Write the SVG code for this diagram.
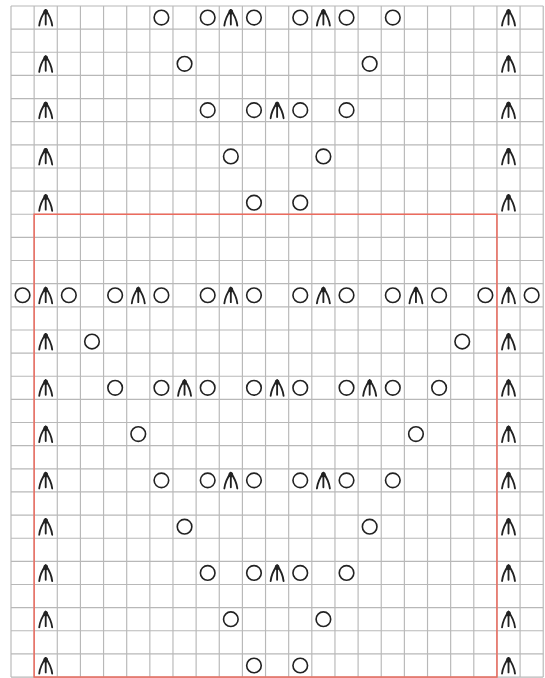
<svg xmlns="http://www.w3.org/2000/svg" xmlns:xlink="http://www.w3.org/1999/xlink" width="545" height="678" viewBox="0 0 545 678">
<style>
.grid line{stroke:#b8b8b8;stroke-width:1}
.yo{fill:none;stroke:#222;stroke-width:1.4}
.dec{fill:none;stroke:#222;stroke-width:1.6;stroke-linecap:round;stroke-linejoin:round}
.repeat{fill:none;stroke:#ec6b5e;stroke-width:1.3}
</style>
<defs>
<g id="o"><circle class="yo" cx="0" cy="0" r="6.3"/></g>
<g id="d"><path class="dec" d="M0,-6.5 C-2.5,-3 -5,2 -5.6,7 M0,-6.5 C2.5,-3 5,2 5.6,7 M0,-6.5 L0,6"/><ellipse cx="0" cy="-4.8" rx="2" ry="2.4" fill="#222"/></g>
</defs>
<rect x="0" y="0" width="545" height="678" fill="#ffffff"/>
<g transform="translate(11,6) scale(1.157)">
<g class="grid" id="grid">
<line x1="0" y1="0" x2="0" y2="580"/><line x1="20" y1="0" x2="20" y2="580"/><line x1="40" y1="0" x2="40" y2="580"/><line x1="60" y1="0" x2="60" y2="580"/><line x1="80" y1="0" x2="80" y2="580"/><line x1="100" y1="0" x2="100" y2="580"/><line x1="120" y1="0" x2="120" y2="580"/><line x1="140" y1="0" x2="140" y2="580"/><line x1="160" y1="0" x2="160" y2="580"/><line x1="180" y1="0" x2="180" y2="580"/><line x1="200" y1="0" x2="200" y2="580"/><line x1="220" y1="0" x2="220" y2="580"/><line x1="240" y1="0" x2="240" y2="580"/><line x1="260" y1="0" x2="260" y2="580"/><line x1="280" y1="0" x2="280" y2="580"/><line x1="300" y1="0" x2="300" y2="580"/><line x1="320" y1="0" x2="320" y2="580"/><line x1="340" y1="0" x2="340" y2="580"/><line x1="360" y1="0" x2="360" y2="580"/><line x1="380" y1="0" x2="380" y2="580"/><line x1="400" y1="0" x2="400" y2="580"/><line x1="420" y1="0" x2="420" y2="580"/><line x1="440" y1="0" x2="440" y2="580"/><line x1="460" y1="0" x2="460" y2="580"/>
<line x1="0" y1="0" x2="460" y2="0"/><line x1="0" y1="20" x2="460" y2="20"/><line x1="0" y1="40" x2="460" y2="40"/><line x1="0" y1="60" x2="460" y2="60"/><line x1="0" y1="80" x2="460" y2="80"/><line x1="0" y1="100" x2="460" y2="100"/><line x1="0" y1="120" x2="460" y2="120"/><line x1="0" y1="140" x2="460" y2="140"/><line x1="0" y1="160" x2="460" y2="160"/><line x1="0" y1="180" x2="460" y2="180"/><line x1="0" y1="200" x2="460" y2="200"/><line x1="0" y1="220" x2="460" y2="220"/><line x1="0" y1="240" x2="460" y2="240"/><line x1="0" y1="260" x2="460" y2="260"/><line x1="0" y1="280" x2="460" y2="280"/><line x1="0" y1="300" x2="460" y2="300"/><line x1="0" y1="320" x2="460" y2="320"/><line x1="0" y1="340" x2="460" y2="340"/><line x1="0" y1="360" x2="460" y2="360"/><line x1="0" y1="380" x2="460" y2="380"/><line x1="0" y1="400" x2="460" y2="400"/><line x1="0" y1="420" x2="460" y2="420"/><line x1="0" y1="440" x2="460" y2="440"/><line x1="0" y1="460" x2="460" y2="460"/><line x1="0" y1="480" x2="460" y2="480"/><line x1="0" y1="500" x2="460" y2="500"/><line x1="0" y1="520" x2="460" y2="520"/><line x1="0" y1="540" x2="460" y2="540"/><line x1="0" y1="560" x2="460" y2="560"/><line x1="0" y1="580" x2="460" y2="580"/>
</g>
<rect class="repeat" id="repeat" x="20" y="180" width="400" height="400"/>
<g id="symbols">
<g id="row0" transform="translate(0,10)"><use xlink:href="#d" x="30"/><use xlink:href="#o" x="130"/><use xlink:href="#o" x="170"/><use xlink:href="#d" x="190"/><use xlink:href="#o" x="210"/><use xlink:href="#o" x="250"/><use xlink:href="#d" x="270"/><use xlink:href="#o" x="290"/><use xlink:href="#o" x="330"/><use xlink:href="#d" x="430"/></g>
<g id="row2" transform="translate(0,50)"><use xlink:href="#d" x="30"/><use xlink:href="#o" x="150"/><use xlink:href="#o" x="310"/><use xlink:href="#d" x="430"/></g>
<g id="row4" transform="translate(0,90)"><use xlink:href="#d" x="30"/><use xlink:href="#o" x="170"/><use xlink:href="#o" x="210"/><use xlink:href="#d" x="230"/><use xlink:href="#o" x="250"/><use xlink:href="#o" x="290"/><use xlink:href="#d" x="430"/></g>
<g id="row6" transform="translate(0,130)"><use xlink:href="#d" x="30"/><use xlink:href="#o" x="190"/><use xlink:href="#o" x="270"/><use xlink:href="#d" x="430"/></g>
<g id="row8" transform="translate(0,170)"><use xlink:href="#d" x="30"/><use xlink:href="#o" x="210"/><use xlink:href="#o" x="250"/><use xlink:href="#d" x="430"/></g>
<g id="row12" transform="translate(0,250)"><use xlink:href="#o" x="10"/><use xlink:href="#d" x="30"/><use xlink:href="#o" x="50"/><use xlink:href="#o" x="90"/><use xlink:href="#d" x="110"/><use xlink:href="#o" x="130"/><use xlink:href="#o" x="170"/><use xlink:href="#d" x="190"/><use xlink:href="#o" x="210"/><use xlink:href="#o" x="250"/><use xlink:href="#d" x="270"/><use xlink:href="#o" x="290"/><use xlink:href="#o" x="330"/><use xlink:href="#d" x="350"/><use xlink:href="#o" x="370"/><use xlink:href="#o" x="410"/><use xlink:href="#d" x="430"/><use xlink:href="#o" x="450"/></g>
<g id="row14" transform="translate(0,290)"><use xlink:href="#d" x="30"/><use xlink:href="#o" x="70"/><use xlink:href="#o" x="390"/><use xlink:href="#d" x="430"/></g>
<g id="row16" transform="translate(0,330)"><use xlink:href="#d" x="30"/><use xlink:href="#o" x="90"/><use xlink:href="#o" x="130"/><use xlink:href="#d" x="150"/><use xlink:href="#o" x="170"/><use xlink:href="#o" x="210"/><use xlink:href="#d" x="230"/><use xlink:href="#o" x="250"/><use xlink:href="#o" x="290"/><use xlink:href="#d" x="310"/><use xlink:href="#o" x="330"/><use xlink:href="#o" x="370"/><use xlink:href="#d" x="430"/></g>
<g id="row18" transform="translate(0,370)"><use xlink:href="#d" x="30"/><use xlink:href="#o" x="110"/><use xlink:href="#o" x="350"/><use xlink:href="#d" x="430"/></g>
<g id="row20" transform="translate(0,410)"><use xlink:href="#d" x="30"/><use xlink:href="#o" x="130"/><use xlink:href="#o" x="170"/><use xlink:href="#d" x="190"/><use xlink:href="#o" x="210"/><use xlink:href="#o" x="250"/><use xlink:href="#d" x="270"/><use xlink:href="#o" x="290"/><use xlink:href="#o" x="330"/><use xlink:href="#d" x="430"/></g>
<g id="row22" transform="translate(0,450)"><use xlink:href="#d" x="30"/><use xlink:href="#o" x="150"/><use xlink:href="#o" x="310"/><use xlink:href="#d" x="430"/></g>
<g id="row24" transform="translate(0,490)"><use xlink:href="#d" x="30"/><use xlink:href="#o" x="170"/><use xlink:href="#o" x="210"/><use xlink:href="#d" x="230"/><use xlink:href="#o" x="250"/><use xlink:href="#o" x="290"/><use xlink:href="#d" x="430"/></g>
<g id="row26" transform="translate(0,530)"><use xlink:href="#d" x="30"/><use xlink:href="#o" x="190"/><use xlink:href="#o" x="270"/><use xlink:href="#d" x="430"/></g>
<g id="row28" transform="translate(0,570)"><use xlink:href="#d" x="30"/><use xlink:href="#o" x="210"/><use xlink:href="#o" x="250"/><use xlink:href="#d" x="430"/></g>
</g>
</g>
</svg>
